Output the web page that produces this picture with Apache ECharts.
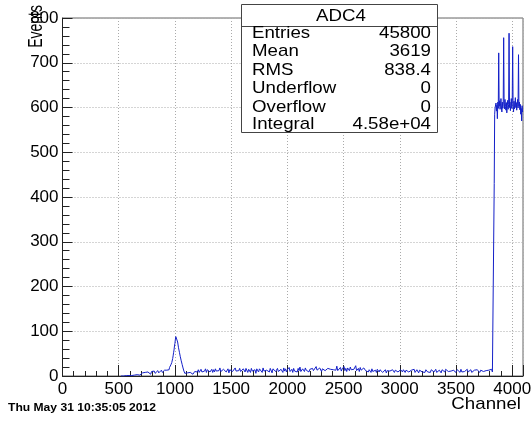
<!DOCTYPE html>
<html>
<head>
<meta charset="utf-8">
<script src="https://cdn.jsdelivr.net/npm/echarts@6/dist/echarts.min.js"></script>
<style>
html,body{margin:0;padding:0;background:#fff;}
#chart{width:532px;height:421px;}
</style>
</head>
<body>
<div id="chart"></div>
<script>
// ---- data (counts per bin) ----
const xTicks = [0, 500, 1000, 1500, 2000, 2500, 3000, 3500, 4000];
const yTicks = [0, 100, 200, 300, 400, 500, 600, 700, 800];

// segment 1: channels 520..896, step 8
const seg1Start = 520, seg1Step = 8;
const seg1Counts = [
  0,1,0,0,2,0,1,0,3,1,
  0,2,1,3,0,2,4,1,3,2,
  4,2,6,3,7,4,3,8,5,7,
  9,5,8,4,10,7,9,11,6,10,
  8,12,7,9,11,13,8,12
];
// segment 2: channels 900..1100, step 4 (peak)
const seg2Start = 900, seg2Step = 4;
const seg2Counts = [
  10,7,13,9,12,14,9,13,11,15,
  12,17,14,19,16,22,25,22,30,33,
  39,45,52,58,67,73,82,88,92,87,
  84,76,73,63,62,53,51,43,42,34,
  33,26,25,18,17,11,10,6,7,4,
  6
];
// segment 3: channels 1104..3832, step 8
const seg3Start = 1104, seg3Step = 8;
const seg3Counts = [
  4,7,3,6,8,5,9,4,8,10,
  7,12,9,14,8,11,15,9,13,10,
  11,16,8,14,10,17,9,13,15,8,
  14,9,16,11,7,15,12,18,10,13,
  8,15,11,17,9,12,16,7,14,11,
  16,10,13,8,18,11,15,9,12,17,
  10,14,7,16,12,9,17,13,8,15,
  13,8,17,11,15,10,14,6,16,12,
  9,16,12,14,8,18,11,15,10,13,
  15,11,9,17,13,7,16,12,14,10,
  12,17,10,14,9,15,13,8,18,11,
  16,9,14,12,19,10,13,15,8,17,
  11,15,13,9,17,12,20,10,14,16,
  14,10,18,13,11,16,9,15,19,12,
  17,12,15,10,21,13,16,11,18,14,
  10,16,13,19,12,15,9,17,14,20,
  15,11,18,14,10,17,13,22,12,16,
  13,19,11,16,14,21,12,17,10,18,
  16,12,20,14,11,18,15,13,23,12,
  14,17,10,19,13,15,11,18,14,12,
  11,15,9,14,12,8,16,10,13,9,
  13,8,15,11,9,14,10,16,8,12,
  10,14,7,12,15,9,11,13,8,14,
  12,8,13,10,16,9,12,7,14,11,
  9,14,11,8,13,10,15,9,12,10,
  13,9,12,15,8,11,14,10,7,13,
  10,15,9,12,11,8,14,12,9,13,
  12,8,14,10,13,9,11,15,8,12,
  9,13,11,7,14,10,12,9,15,11,
  13,10,8,14,11,12,9,13,10,8,
  11,14,10,12,8,15,9,11,13,10,
  8,12,15,9,11,10,14,8,12,11,
  13,9,11,14,10,12,8,13,11,9,
  10,14,9,12,11,8,13,10,12,15,
  9,12
];
// segment 4: channels 3836..4092, step 4 (edge + plateau)
const seg4Start = 3836, seg4Step = 4;
const seg4Counts = [
  10,430,585,600,596,610,592,605,575,612,
  598,722,603,615,596,608,620,601,590,612,
  598,606,756,610,597,618,602,594,611,588,
  604,616,596,607,766,600,612,593,605,620,
  598,609,736,602,590,614,597,608,622,600,
  611,594,606,618,599,718,603,612,595,607,
  585,598,570,604,590
];

const statsTitle = 'ADC4';
const statsNames = ['Entries', 'Mean', 'RMS', 'Underflow', 'Overflow', 'Integral'];
const statsValues = ['45800', '3619', '838.4', '0', '0', '4.58e+04'];

// ---- build series data ----
function pushSeg(out, start, step, counts) {
  counts.forEach((c, i) => out.push([start + i * step, c]));
}
const histData = [];
pushSeg(histData, seg1Start, seg1Step, seg1Counts);
pushSeg(histData, seg2Start, seg2Step, seg2Counts);
pushSeg(histData, seg3Start, seg3Step, seg3Counts);
pushSeg(histData, seg4Start, seg4Step, seg4Counts);

const FONT = '"Liberation Sans", Arial, sans-serif';
const SX = 1.1;

function txt(text, x, y, align, size, extra) {
  return Object.assign({
    type: 'text', x: x, y: y, scaleX: SX, z: 102,
    style: { text: text, fill: '#000', font: size + 'px ' + FONT, textAlign: align, textVerticalAlign: 'middle' }
  }, extra || {});
}

const rowY = [33, 51.5, 70, 88.5, 107, 124.5];
const graphics = [
  { type: 'rect', z: 100, shape: { x: 241.5, y: 4.5, width: 196, height: 128 }, style: { fill: '#fff', stroke: '#444', lineWidth: 1 } },
  { type: 'line', z: 101, shape: { x1: 241.5, y1: 26.5, x2: 437.5, y2: 26.5 }, style: { stroke: '#444', lineWidth: 1 } },
  txt(statsTitle, 341, 16, 'center', 17)
];
statsNames.forEach((n, i) => {
  graphics.push(txt(n, 252, rowY[i], 'left', 17));
  graphics.push(txt(statsValues[i], 431, rowY[i], 'right', 17));
});
graphics.push(txt('Channel', 521, 404, 'right', 17));
graphics.push({
  type: 'text', x: 37, y: 5, rotation: Math.PI / 2, scaleY: 1.4, z: 102,
  style: { text: 'Events', fill: '#000', font: '14px ' + FONT, textAlign: 'right', textVerticalAlign: 'middle' }
});
graphics.push(txt('Thu May 31 10:35:05 2012', 8, 408, 'left', 11, {}));
graphics[graphics.length - 1].style.font = 'bold 11px ' + FONT;

const chart = echarts.init(document.getElementById('chart'), null, { renderer: 'canvas' });
chart.setOption({
  animation: false,
  backgroundColor: '#fff',
  grid: {
    left: 62.5, right: 9, top: 18, bottom: 45,
    containLabel: false, outerBoundsMode: 'none',
    show: true, borderColor: '#666', borderWidth: 1, backgroundColor: 'transparent'
  },
  xAxis: {
    type: 'value', min: 0, max: 4096, interval: 500,
    axisLine: { onZero: false, lineStyle: { color: '#222', width: 1 } },
    axisTick: { inside: true, length: 11, lineStyle: { color: '#222' } },
    minorTick: { show: true, splitNumber: 5, length: 5, lineStyle: { color: '#222' } },
    splitLine: { show: true, lineStyle: { color: '#aaa', type: [1, 2], width: 1 } },
    axisLabel: {
      margin: 5, color: '#000', fontFamily: FONT, fontSize: 17, showMaxLabel: false,
      formatter: v => (xTicks.indexOf(v) >= 0 ? String(v) : '')
    }
  },
  yAxis: {
    type: 'value', min: 0, max: 800, interval: 100,
    axisLine: { show: true, onZero: false, lineStyle: { color: '#222', width: 1 } },
    axisTick: { show: true, inside: true, length: 10, lineStyle: { color: '#222' } },
    minorTick: { show: true, splitNumber: 5, length: 7, lineStyle: { color: '#222' } },
    splitLine: { show: true, lineStyle: { color: '#aaa', type: [1, 2], width: 1 } },
    axisLabel: {
      margin: 4, color: '#000', fontFamily: FONT, fontSize: 17,
      formatter: v => (yTicks.indexOf(v) >= 0 ? String(v) : '')
    }
  },
  series: [{
    type: 'line', data: histData, showSymbol: false, symbol: 'none',
    sampling: null, z: 5,
    lineStyle: { color: '#1420c8', width: 1 }
  }],
  graphic: graphics
});
</script>
</body>
</html>
